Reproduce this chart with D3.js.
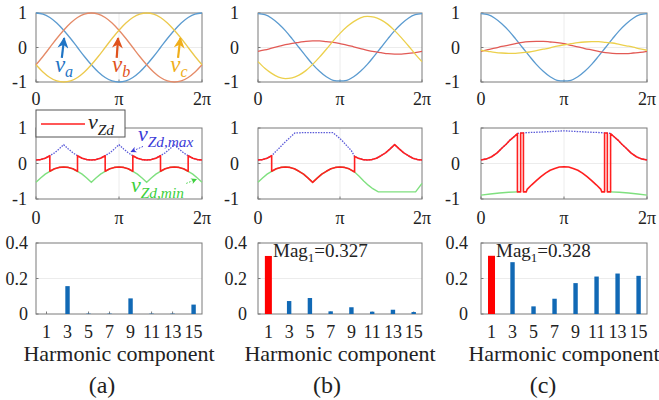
<!DOCTYPE html>
<html>
<head>
<meta charset="utf-8">
<script src="https://cdn.jsdelivr.net/npm/d3@7"></script>
<style>
  body { margin: 0; background: #fff; }
  svg text { font-family: "Liberation Serif", "DejaVu Serif", serif; fill: #222; }
</style>
</head>
<body>
<div id="chart"></div>
<script>
// ---- Data (angles in degrees, 0..360 = 0..2pi) ----
const theta15 = [0,15,30,45,60,75,90,105,120,135,150,165,180,195,210,225,240,255,270,285,300,315,330,345,360];

// row 1: phase set-points
const vaA = [1,.97,.87,.71,.5,.26,0,-.26,-.5,-.71,-.87,-.97,-1,-.97,-.87,-.71,-.5,-.26,0,.26,.5,.71,.87,.97,1];
const vbA = [-.5,-.26,0,.26,.5,.71,.87,.97,1,.97,.87,.71,.5,.26,0,-.26,-.5,-.71,-.87,-.97,-1,-.97,-.87,-.71,-.5];
const vcA = [-.5,-.71,-.87,-.97,-1,-.97,-.87,-.71,-.5,-.26,0,.26,.5,.71,.87,.97,1,.97,.87,.71,.5,.26,0,-.26,-.5];

const vaB = [.98,.95,.85,.69,.49,.25,0,-.25,-.49,-.69,-.85,-.95,-.97,-.95,-.85,-.69,-.49,-.25,0,.25,.49,.69,.85,.95,.98];
const vbB = [-.11,-.07,-.02,.03,.08,.12,.15,.18,.19,.19,.17,.15,.11,.07,.02,-.03,-.08,-.12,-.15,-.18,-.19,-.19,-.17,-.15,-.11];
const vcB = [-.41,-.6,-.75,-.86,-.9,-.88,-.8,-.67,-.49,-.28,-.05,.19,.41,.6,.75,.86,.9,.88,.8,.67,.49,.28,.05,-.19,-.41];

const vaC = [.98,.95,.85,.69,.49,.25,0,-.25,-.49,-.69,-.85,-.95,-.97,-.95,-.85,-.69,-.49,-.25,0,.25,.49,.69,.85,.95,.98];
const vbC = [-.11,-.06,-.02,.03,.07,.11,.15,.17,.18,.18,.16,.14,.11,.06,.02,-.03,-.07,-.11,-.15,-.17,-.18,-.18,-.16,-.14,-.11];
const vcC = [-.08,-.11,-.14,-.16,-.17,-.17,-.15,-.13,-.09,-.05,-.01,.04,.08,.11,.14,.16,.17,.17,.15,.13,.09,.05,.01,-.04,-.08];

// row 2: zero-sequence limits and chosen v_Zd
const theta10 = [0,10,20,30,40,50,60,70,80,90,100,110,120,130,140,150,160,170,180,190,200,210,220,230,240,250,260,270,280,290,300,310,320,330,340,350,360];
const zdMaxA = [.10,.11,.15,.22,.30,.41,.53,.41,.30,.22,.15,.11,.10,.11,.15,.22,.30,.41,.53,.41,.30,.22,.15,.11,.10,.11,.15,.22,.30,.41,.53,.41,.30,.22,.15,.11,.10];
const zdMinA = [-.53,-.41,-.30,-.22,-.15,-.11,-.10,-.11,-.15,-.22,-.30,-.41,-.53,-.41,-.30,-.22,-.15,-.11,-.10,-.11,-.15,-.22,-.30,-.41,-.53,-.41,-.30,-.22,-.15,-.11,-.10,-.11,-.15,-.22,-.30,-.41,-.53];
const zdA = [[0,.10],[10,.11],[20,.15],[30,.22],[30,-.22],[40,-.15],[50,-.11],[60,-.10],[70,-.11],[80,-.15],[90,-.22],[90,.22],[100,.15],[110,.11],[120,.10],[130,.11],[140,.15],[150,.22],[150,-.22],[160,-.15],[170,-.11],[180,-.10],[190,-.11],[200,-.15],[210,-.22],[210,.22],[220,.15],[230,.11],[240,.10],[250,.11],[260,.15],[270,.22],[270,-.22],[280,-.15],[290,-.11],[300,-.10],[310,-.11],[320,-.15],[330,-.22],[330,.22],[340,.15],[350,.11],[360,.10]];

const zdMaxB = [[0,.10],[10,.11],[20,.15],[30,.22],[40,.35],[50,.48],[60,.61],[70,.73],[81,.86],[100,.87],[120,.87],[140,.87],[164,.87],[175,.76],[185,.64],[195,.5],[205,.36],[212,.2],[220,.15],[230,.11],[240,.10],[250,.11],[260,.15],[270,.22],[280,.30],[290,.41],[300,.53],[310,.41],[320,.30],[330,.22],[340,.15],[350,.11],[360,.10]];
const zdMinB = [[0,-.53],[10,-.41],[20,-.30],[30,-.22],[40,-.15],[50,-.11],[60,-.10],[70,-.11],[80,-.15],[90,-.22],[100,-.30],[110,-.41],[120,-.53],[130,-.41],[140,-.30],[150,-.22],[160,-.15],[170,-.11],[180,-.10],[190,-.11],[200,-.15],[212,-.24],[222,-.36],[232,-.49],[242,-.61],[252,-.71],[264,-.8],[300,-.8],[346,-.8],[353,-.68],[360,-.56]];
const zdB = [[0,.10],[10,.11],[20,.15],[30,.22],[30,-.22],[40,-.15],[50,-.11],[60,-.10],[70,-.11],[80,-.15],[90,-.22],[100,-.30],[110,-.41],[120,-.53],[130,-.41],[140,-.30],[150,-.22],[160,-.15],[170,-.11],[180,-.10],[190,-.11],[200,-.15],[212,-.24],[212,.2],[220,.15],[230,.11],[240,.10],[250,.11],[260,.15],[270,.22],[280,.30],[290,.41],[300,.53],[310,.41],[320,.30],[330,.22],[340,.15],[350,.11],[360,.10]];

const zdMaxC = [[0,.1],[12,.13],[23,.19],[35,.3],[45,.43],[55,.55],[63,.66],[72,.76],[80,.85],[100,.87],[120,.88],[150,.9],[180,.92],[210,.9],[240,.88],[260,.87],[280,.85],[288,.76],[297,.66],[305,.55],[315,.43],[325,.3],[337,.19],[348,.13],[360,.1]];
const zdMinC = [[0,-.89],[20,-.86],[40,-.83],[60,-.81],[80,-.8],[180,null],[280,-.8],[300,-.81],[320,-.83],[340,-.86],[360,-.89]];
const zdC = [[0,.1],[12,.13],[23,.19],[35,.3],[45,.43],[55,.55],[63,.66],[72,.76],[79,.84],[79,-.8],[86,-.8],[86,.86],[92,.86],[92,-.8],[98,-.8],[100,-.73],[110,-.6],[120,-.48],[130,-.37],[140,-.27],[150,-.19],[160,-.14],[170,-.1],[180,-.09],[190,-.1],[200,-.14],[210,-.19],[220,-.27],[230,-.37],[240,-.48],[250,-.6],[260,-.73],[262,-.8],[268,-.8],[268,.86],[274,.86],[274,-.8],[281,-.8],[281,.84],[288,.76],[297,.66],[305,.55],[315,.43],[325,.3],[337,.19],[348,.13],[360,.1]];

// row 3: harmonic spectrum of v_Zd
const harmonics = [1,3,5,7,9,11,13,15];
const magA = [0,.157,.002,.002,.088,.002,.002,.053];
const magB = [.327,.073,.09,.015,.038,.013,.024,.011];
const magC = [.328,.292,.043,.086,.174,.211,.228,.215];
const fundText = [null, "0.327", "0.328"];

const angleTicks = [0,180,360];
const angleLabels = ["0","\u03c0","2\u03c0"];
const waveTicks = [1,0,-1];
const magTicks = [0.4,0.2,0];
const panelNames = ["(a)","(b)","(c)"];

// ---- Layout ----
const W = 659, H = 400;
const serif = "'Liberation Serif', 'DejaVu Serif', serif";
const svg = d3.select("#chart").append("svg")
  .attr("width", W).attr("height", H)
  .attr("font-family", serif);

const cols = [
  {x0: 36,  x1: 202, pad: 9,  pad3: 8,  cap: 102},
  {x0: 258, x1: 422, pad: 19, pad3: 11, cap: 327},
  {x0: 481, x1: 647, pad: 21, pad3: 13, cap: 543}
];
const rowWave = {top: 13,  bot: 82,  lab: 105};
const rowZd   = {top: 128, bot: 199, lab: 224};
const rowMag  = {top: 243, bot: 314, lab: 338};

const tickFont = 18;
const frameColor = "#7a7a7a";
const gridColor = "#ececec";

const defs = svg.append("defs");
function addMarker(id, color, w, h) {
  defs.append("marker")
    .attr("id", id)
    .attr("viewBox", "0 0 10 10")
    .attr("refX", 9).attr("refY", 5)
    .attr("markerUnits", "userSpaceOnUse")
    .attr("markerWidth", w).attr("markerHeight", h)
    .attr("orient", "auto")
    .append("path")
    .attr("d", "M0,0 L10,5 L0,10 L3,5 Z")
    .attr("fill", color);
}
addMarker("arrBlue", "#1f74c4", 13, 11);
addMarker("arrOrange", "#e0521c", 13, 11);
addMarker("arrYellow", "#f0ae1a", 13, 11);
addMarker("arrMax", "#3b3bd8", 7, 6);
addMarker("arrMin", "#3ccf3c", 7, 6);

function txt(g) {
  return g.append("text").style("font-family", serif);
}

// Draw frame, grid, ticks and labels for one panel
function drawFrame(g, x, y, c, row, xTicks, xFmt, yTicks, yFmt, pad, vGrid, hGrid) {
  vGrid.forEach(v => g.append("line")
    .attr("x1", x(v)).attr("x2", x(v)).attr("y1", row.top).attr("y2", row.bot)
    .attr("stroke", gridColor).attr("stroke-width", 1));
  hGrid.forEach(v => g.append("line")
    .attr("x1", c.x0).attr("x2", c.x1).attr("y1", y(v)).attr("y2", y(v))
    .attr("stroke", gridColor).attr("stroke-width", 1));

  g.append("rect")
    .attr("x", c.x0).attr("y", row.top)
    .attr("width", c.x1 - c.x0).attr("height", row.bot - row.top)
    .attr("fill", "none").attr("stroke", frameColor).attr("stroke-width", 1);

  xTicks.forEach((v, i) => {
    g.append("line").attr("x1", x(v)).attr("x2", x(v))
      .attr("y1", row.bot).attr("y2", row.bot - 2.5)
      .attr("stroke", frameColor);
    txt(g).attr("x", x(v)).attr("y", row.lab)
      .attr("text-anchor", "middle").attr("font-size", tickFont)
      .text(xFmt(v, i));
  });
  yTicks.forEach((v, i) => {
    g.append("line").attr("x1", c.x0).attr("x2", c.x0 + 2.5)
      .attr("y1", y(v)).attr("y2", y(v))
      .attr("stroke", frameColor);
    txt(g).attr("x", c.x0 - pad).attr("y", y(v)).attr("dy", "0.35em")
      .attr("text-anchor", "end").attr("font-size", tickFont)
      .text(yFmt(v, i));
  });
}

function mathLabel(g, x, y, main, sub, size, color) {
  const t = txt(g).attr("x", x).attr("y", y)
    .attr("font-size", size).attr("font-style", "italic")
    .style("fill", color);
  t.append("tspan").text(main);
  t.append("tspan").attr("dy", size * 0.25).attr("font-size", size * 0.7).text(sub);
  return t;
}

// ---- Row 1: phase voltages ----
const waveSets = [
  [{v: vaA, c: "#5b9bd0"}, {v: vbA, c: "#e58a67"}, {v: vcA, c: "#ecc94c"}],
  [{v: vaB, c: "#5b9bd0"}, {v: vbB, c: "#e25a55"}, {v: vcB, c: "#ecd04c"}],
  [{v: vaC, c: "#5b9bd0"}, {v: vbC, c: "#e25a55"}, {v: vcC, c: "#ecd04c"}]
];

cols.forEach((c, k) => {
  const g = svg.append("g");
  const x = d3.scaleLinear().domain([0, 360]).range([c.x0, c.x1]);
  const y = d3.scaleLinear().domain([-1, 1]).range([rowWave.bot, rowWave.top]);
  drawFrame(g, x, y, c, rowWave, angleTicks, (v, i) => angleLabels[i],
            waveTicks, v => String(v), c.pad, [180], [0]);
  const line = d3.line().x(d => x(d[0])).y(d => y(d[1])).curve(d3.curveMonotoneX);
  waveSets[k].forEach(s => {
    g.append("path").datum(theta15.map((t, i) => [t, s.v[i]]))
      .attr("d", line).attr("fill", "none")
      .attr("stroke", s.c).attr("stroke-width", 1.3);
  });

  if (k === 0) {
    // phase arrows with labels
    const arrows = [
      {from: [56, -0.3], to: [61, 0.27], m: "arrBlue", c: "#1f74c4", lab: [41, -0.7], sub: "a"},
      {from: [175, -0.3], to: [178, 0.27], m: "arrOrange", c: "#e0521c", lab: [165, -0.7], sub: "b"},
      {from: [308, -0.3], to: [313, 0.27], m: "arrYellow", c: "#f0ae1a", lab: [291, -0.7], sub: "c"}
    ];
    arrows.forEach(a => {
      g.append("line")
        .attr("x1", x(a.from[0])).attr("y1", y(a.from[1]))
        .attr("x2", x(a.to[0])).attr("y2", y(a.to[1]))
        .attr("stroke", a.c).attr("stroke-width", 2.2)
        .attr("marker-end", `url(#${a.m})`);
      mathLabel(g, x(a.lab[0]), y(a.lab[1]), "v", a.sub, 23, a.c);
    });
  }
});

// ---- Row 2: v_Zd and its limits ----
const zdSets = [
  {max: theta10.map((t, i) => [t, zdMaxA[i]]), min: theta10.map((t, i) => [t, zdMinA[i]]), zd: zdA},
  {max: zdMaxB, min: zdMinB, zd: zdB},
  {max: zdMaxC, min: zdMinC, zd: zdC}
];

cols.forEach((c, k) => {
  const g = svg.append("g");
  const x = d3.scaleLinear().domain([0, 360]).range([c.x0, c.x1]);
  const y = d3.scaleLinear().domain([-1, 1]).range([rowZd.bot, rowZd.top]);
  drawFrame(g, x, y, c, rowZd, angleTicks, (v, i) => angleLabels[i],
            waveTicks, v => String(v), c.pad, [180], [0]);
  const line = d3.line().defined(d => d[1] != null)
    .x(d => x(d[0])).y(d => y(d[1]));
  const s = zdSets[k];
  g.append("path").datum(s.min).attr("d", line).attr("fill", "none")
    .attr("stroke", "#7fe07f").attr("stroke-width", 1.4);
  g.append("path").datum(s.max).attr("d", line).attr("fill", "none")
    .attr("stroke", "#5a5ad8").attr("stroke-width", 1.3).attr("stroke-dasharray", "1.5,1.2");
  g.append("path").datum(s.zd).attr("d", line).attr("fill", "none")
    .attr("stroke", "#ff1f1f").attr("stroke-width", 1.6).attr("stroke-linejoin", "round");

  if (k === 0) {
    // legend
    const lg = g.append("g");
    lg.append("rect").attr("x", 36).attr("y", 110).attr("width", 89).attr("height", 27)
      .attr("fill", "#fff").attr("stroke", "#555").attr("stroke-width", 1);
    lg.append("line").attr("x1", 41).attr("x2", 85).attr("y1", 124).attr("y2", 124)
      .attr("stroke", "#ff1f1f").attr("stroke-width", 1.6);
    mathLabel(lg, 88, 129, "v", "Zd", 22, "#222");

    // annotations
    mathLabel(g, x(221), y(0.62), "v", "Zd,max", 22, "#3b3bd8");
    g.append("line")
      .attr("x1", x(232)).attr("y1", y(0.48))
      .attr("x2", x(206)).attr("y2", y(0.33))
      .attr("stroke", "#3b3bd8").attr("stroke-width", 1).attr("stroke-dasharray", "1.5,1.5")
      .attr("marker-end", "url(#arrMax)");
    mathLabel(g, x(206), y(-0.81), "v", "Zd,min", 22, "#3ccf3c");
    g.append("line")
      .attr("x1", x(326)).attr("y1", y(-0.56))
      .attr("x2", x(348)).attr("y2", y(-0.44))
      .attr("stroke", "#3ccf3c").attr("stroke-width", 1).attr("stroke-dasharray", "1.5,1.5")
      .attr("marker-end", "url(#arrMin)");
  }
});

// ---- Row 3: harmonic spectra ----
const magSets = [magA, magB, magC];

cols.forEach((c, k) => {
  const g = svg.append("g");
  const x = d3.scaleLinear().domain([0, 15.8]).range([c.x0, c.x1]);
  const y = d3.scaleLinear().domain([0, 0.4]).range([rowMag.bot, rowMag.top]);
  drawFrame(g, x, y, c, rowMag, harmonics, v => v,
            magTicks, v => v === 0 ? "0" : d3.format(".1f")(v), c.pad3, [], [0.2]);
  const vals = magSets[k];
  g.selectAll("rect.bar").data(harmonics).enter().append("rect")
    .attr("class", "bar")
    .attr("x", (h, i) => x(h) - (i === 0 ? 3.5 : 2.2))
    .attr("width", (h, i) => i === 0 ? 7 : 4.4)
    .attr("y", (h, i) => y(vals[i]))
    .attr("height", (h, i) => y(0) - y(vals[i]))
    .attr("fill", (h, i) => i === 0 ? "#ff0000" : "#1169b5");

  if (fundText[k]) {
    const t = txt(g).attr("x", c.x0 + 15).attr("y", rowMag.top + 14)
      .attr("font-size", 19);
    t.append("tspan").text("Mag");
    t.append("tspan").attr("dy", 5).attr("font-size", 13).text("1");
    t.append("tspan").attr("dy", -5).text("=" + fundText[k]);
  }

  txt(g).attr("x", (c.x0 + c.x1) / 2).attr("y", 361)
    .attr("text-anchor", "middle").attr("font-size", 22)
    .text("Harmonic component");
  txt(g).attr("x", c.cap).attr("y", 393)
    .attr("text-anchor", "middle").attr("font-size", 24)
    .text(panelNames[k]);
});
</script>
</body>
</html>
